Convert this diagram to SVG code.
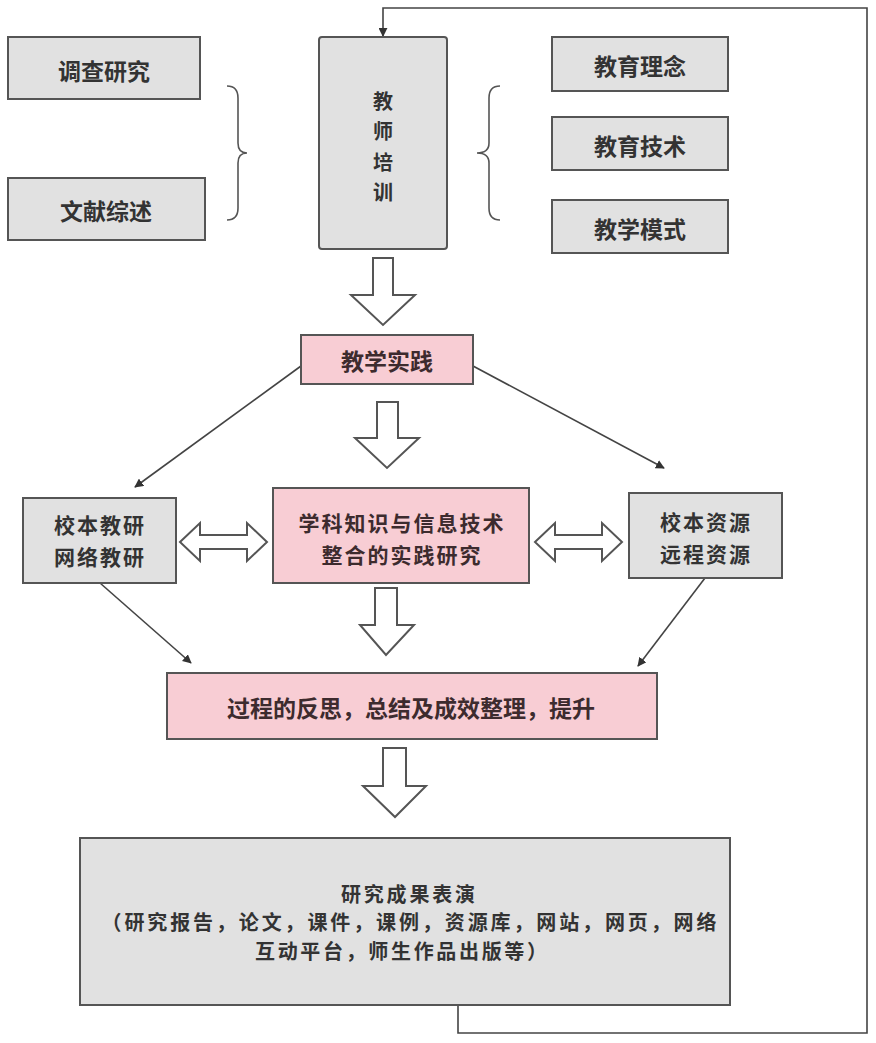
<svg xmlns="http://www.w3.org/2000/svg" width="876" height="1043" viewBox="0 0 876 1043">
<style>
.gray{fill:#e1e1e1;stroke:#555;stroke-width:2}
.pink{fill:#f8cdd4;stroke:#555;stroke-width:2}
.t{font-family:"Noto Sans CJK SC","Noto Sans",sans-serif;font-weight:bold;font-size:23px;fill:#333;text-anchor:middle;dominant-baseline:central}
.m{font-size:21px;letter-spacing:2px}
.s{font-size:20px}
.tp{fill:#3d2b2e}
.blk{fill:#fff;stroke:#555;stroke-width:2;stroke-linejoin:miter}
.ln{fill:none;stroke:#444;stroke-width:1.6}
.br{fill:none;stroke:#555;stroke-width:1.6}
</style>
<defs>
<marker id="ah" viewBox="0 0 10 10" refX="9" refY="5" markerWidth="9" markerHeight="9" markerUnits="userSpaceOnUse" orient="auto">
<path d="M0,0 L10,5 L0,10 z" fill="#333"/>
</marker>
</defs>
<rect width="876" height="1043" fill="#fff"/>

<g id="connectors">
<path class="ln" d="M458,1005 L458,1033 L867,1033 L867,8 L383,8 L383,36" marker-end="url(#ah)"/>
<path class="ln" d="M301,366 L135,487" marker-end="url(#ah)"/>
<path class="ln" d="M473,366 L664,468" marker-end="url(#ah)"/>
<path class="ln" d="M100,583 L191,663" marker-end="url(#ah)"/>
<path class="ln" d="M705,578 L638,666" marker-end="url(#ah)"/>
<path class="br" d="M227,86 Q238,86 238,98 L238,143 Q238,153 247,153 Q238,153 238,163 L238,208 Q238,220 227,220"/>
<path class="br" d="M500,86 Q489,86 489,98 L489,143 Q489,153 477,153 Q489,153 489,163 L489,208 Q489,220 500,220"/>
<path class="blk" d="M373,258 L393,258 L393,295 L415,295 L383,325 L351,295 L373,295 Z"/>
<path class="blk" d="M377,402 L398,402 L398,438 L419,438 L387,468 L355,438 L377,438 Z"/>
<path class="blk" d="M375,588 L397,588 L397,625 L414,625 L386,655 L360,625 L375,625 Z"/>
<path class="blk" d="M383,748 L406,748 L406,786 L426,786 L395,817 L363,786 L383,786 Z"/>
<path class="blk" d="M180,542 L200,523 L200,535 L247,535 L247,523 L267,542 L247,561 L247,549 L200,549 L200,561 Z"/>
<path class="blk" d="M535,542 L555,523 L555,535 L602,535 L602,523 L622,542 L602,561 L602,549 L555,549 L555,561 Z"/>
</g>

<g id="n-diaocha"><rect class="gray" x="8" y="37" width="192" height="62"/><text class="t" x="104" y="70">调查研究</text></g>
<g id="n-wenxian"><rect class="gray" x="8" y="178" width="197" height="62"/><text class="t" x="106" y="210">文献综述</text></g>
<g id="n-jiaoshi"><rect class="gray" x="319" y="37" width="128" height="212" rx="3"/>
<text class="t s" x="383" y="100">教</text><text class="t s" x="383" y="130">师</text><text class="t s" x="383" y="161">培</text><text class="t s" x="383" y="191">训</text></g>
<g id="n-linian"><rect class="gray" x="552" y="37" width="176" height="54"/><text class="t" x="640" y="65">教育理念</text></g>
<g id="n-jishu"><rect class="gray" x="552" y="117" width="176" height="53"/><text class="t" x="640" y="145">教育技术</text></g>
<g id="n-moshi"><rect class="gray" x="552" y="200" width="176" height="53"/><text class="t" x="640" y="228">教学模式</text></g>
<g id="n-shijian"><rect class="pink" x="301" y="335" width="172" height="49"/><text class="t tp" x="387" y="360">教学实践</text></g>
<g id="n-jiaoyan"><rect class="gray" x="23" y="498" width="153" height="85"/><text class="t m" x="100" y="524">校本教研</text><text class="t m" x="100" y="556">网络教研</text></g>
<g id="n-zhenghe"><rect class="pink" x="273" y="488" width="256" height="95"/><text class="t tp m" x="402" y="522">学科知识与信息技术</text><text class="t tp m" x="402" y="554">整合的实践研究</text></g>
<g id="n-ziyuan"><rect class="gray" x="629" y="493" width="153" height="85"/><text class="t m" x="706" y="521">校本资源</text><text class="t m" x="706" y="553">远程资源</text></g>
<g id="n-fansi"><rect class="pink" x="167" y="673" width="490" height="66"/><text class="t tp" x="411" y="707">过程的反思，总结及成效整理，提升</text></g>
<g id="n-chengguo"><rect class="gray" x="80" y="838" width="650" height="167"/>
<text class="t s" x="408" y="893" textLength="134" lengthAdjust="spacing">研究成果表演</text>
<text class="t s" x="409" y="921" textLength="615" lengthAdjust="spacing">（研究报告，论文，课件，课例，资源库，网站，网页，网络</text>
<text class="t s" x="401" y="950" textLength="292" lengthAdjust="spacing">互动平台，师生作品出版等）</text></g>
</svg>
